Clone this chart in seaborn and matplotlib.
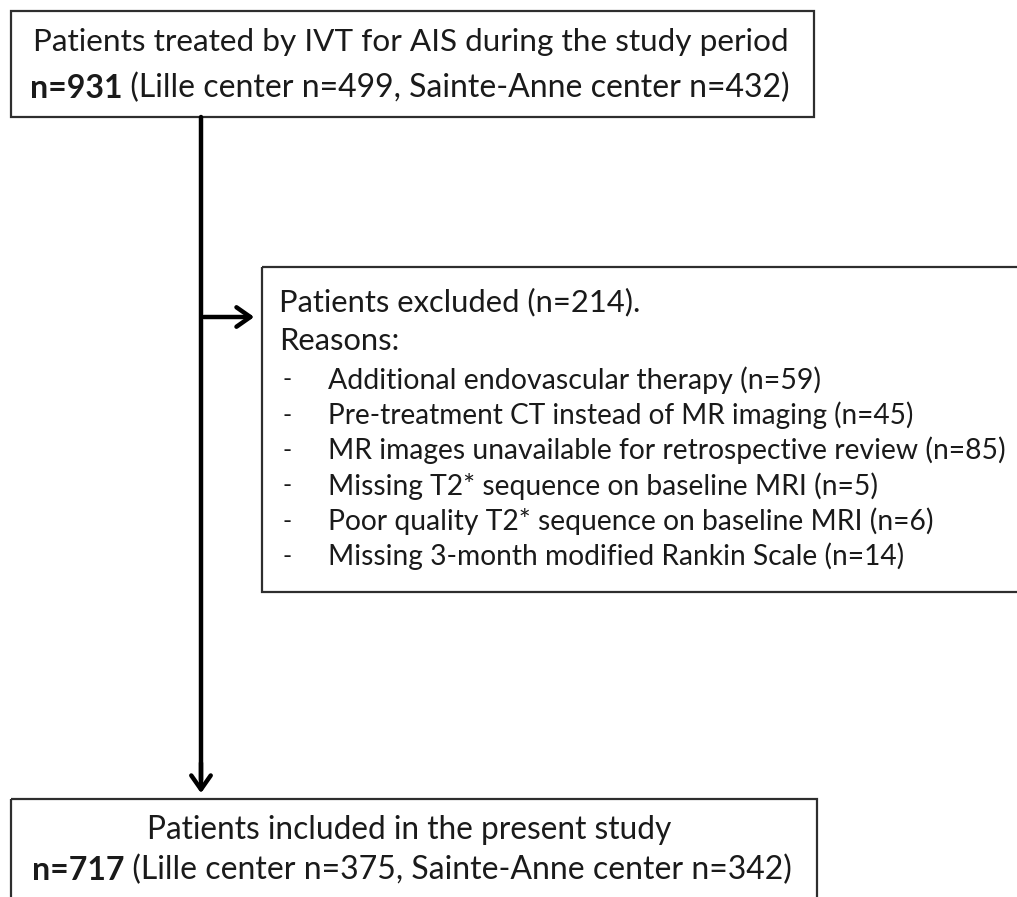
import matplotlib
matplotlib.use("Agg")
import matplotlib.pyplot as plt
import seaborn as sns
import pandas as pd
from matplotlib.patches import Rectangle, FancyArrowPatch

# ---------------- data ----------------
total_n = 931
total_centers = {"Lille center": 499, "Sainte-Anne center": 432}
excluded_n = 214
exclusion_reasons = [
    "Additional endovascular therapy",
    "Pre-treatment CT instead of MR imaging",
    "MR images unavailable for retrospective review",
    "Missing T2* sequence on baseline MRI",
    "Poor quality T2* sequence on baseline MRI",
    "Missing 3-month modified Rankin Scale",
]
exclusion_counts = [59, 45, 85, 5, 6, 14]
included_n = 717
included_centers = {"Lille center": 375, "Sainte-Anne center": 342}

# ---------------- figure ----------------
sns.set_theme(style="white")
plt.rcParams["font.family"] = ["Lato", "DejaVu Sans"]
TXT = "#1a1a1a"
EDGE = "#2e2e2e"

W, H = 1017, 897
fig = plt.figure(figsize=(W / 100, H / 100), dpi=100)
ax = fig.add_axes([0, 0, 1, 1])
ax.set_xlim(0, W)
ax.set_ylim(H, 0)
ax.axis("off")
fig.canvas.draw()
renderer = fig.canvas.get_renderer()


def width_of(s, size, weight="normal"):
    t = ax.text(0, 0, s, fontsize=size, fontweight=weight)
    w = t.get_window_extent(renderer).width
    t.remove()
    return w


def runs(parts, x0, x1, y):
    """Draw text runs so that the whole line spans x0..x1 (layout fit)."""
    base = sum(width_of(s, 20, wt) for s, wt in parts)
    fs = 20 * (x1 - x0) / base
    widths = [width_of(s, fs, wt) for s, wt in parts]
    x = x0
    for (s, wt), w in zip(parts, widths):
        ax.text(x, y, s, fontsize=fs, fontweight=wt, color=TXT,
                ha="left", va="center")
        x += w


def center_str(d):
    return ", ".join(f"{k} n={v}" for k, v in d.items())


# boxes
for (x0, y0, x1, y1) in [(11, 11, 814, 117), (262, 267, 1030, 592), (11, 799, 817, 910)]:
    ax.add_patch(Rectangle((x0, y0), x1 - x0, y1 - y0, fill=False,
                           edgecolor=EDGE, linewidth=1.6, clip_on=True))

# top box text
runs([("Patients treated by IVT for AIS during the study period", "normal")], 33, 789, 42)
runs([(f"n={total_n}", "bold"), (f" ({center_str(total_centers)})", "normal")],
     30, 793, 88)

# excluded box text
runs([(f"Patients excluded (n={excluded_n}).", "normal")], 279, 641, 302)
runs([("Reasons:", "normal")], 279, 399, 341)
ends = [822, 915, 1005, 878, 933, 903]
ys = [380 + 35.3 * i for i in range(len(exclusion_reasons))]
for r, c, y, e in zip(exclusion_reasons, exclusion_counts, ys, ends):
    ax.text(283, y, "-", fontsize=18, color=TXT, ha="left", va="center")
    runs([(f"{r} (n={c})", "normal")], 328, e, y)

# included box text
runs([("Patients included in the present study", "normal")], 147, 674, 830)
runs([(f"n={included_n}", "bold"), (f" ({center_str(included_centers)})", "normal")],
     32, 793, 870)

# connectors
trunk = pd.DataFrame({"x": [201, 201], "y": [117, 780]})
sns.lineplot(data=trunk, x="x", y="y", ax=ax, color="black", linewidth=3.2,
             sort=False, estimator=None, legend=False)
ax.add_patch(FancyArrowPatch((201, 760), (201, 796), arrowstyle="->,head_length=10,head_width=7",
                             color="black", linewidth=3.2, mutation_scale=1))
ax.add_patch(FancyArrowPatch((201, 317), (257, 317), arrowstyle="->,head_length=10,head_width=7",
                             color="black", linewidth=3.2, mutation_scale=1))

ax.set_xlim(0, W)
ax.set_ylim(H, 0)
ax.axis("off")
fig.savefig("out.png", dpi=100, facecolor="white")
